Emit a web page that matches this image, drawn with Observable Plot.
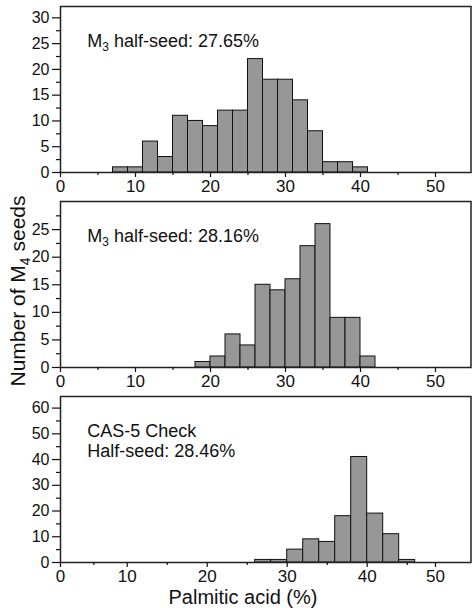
<!DOCTYPE html>
<html><head><meta charset="utf-8">
<script src="https://cdn.jsdelivr.net/npm/d3@7"></script>
<script src="https://cdn.jsdelivr.net/npm/@observablehq/plot@0.6"></script>
<style>
body{margin:0;background:#fff;font-family:"Liberation Sans",Arial,sans-serif;}
#wrap{position:relative;width:472px;height:608px;overflow:hidden;background:#fff}
#wrap svg.panel{display:block}
#over{position:absolute;left:0;top:0;pointer-events:none}
</style></head><body><div id="wrap"></div>
<script>
// ---- data ----
const binWidth = 2;
const p1Lo    = [7, 9, 11, 13, 15, 17, 19, 21, 23, 25, 27, 29, 31, 33, 35, 37, 39];
const p1Count = [1, 1, 6, 3, 11, 10, 9, 12, 12, 22, 18, 18, 14, 8, 2, 2, 1];
const p2Lo    = [18, 20, 22, 24, 26, 28, 30, 32, 34, 36, 38, 40];
const p2Count = [1, 2, 6, 4, 15, 14, 16, 22, 26, 9, 9, 2];
const p3Lo    = [26, 28, 30, 32, 34, 36, 38, 40, 42, 44];
const p3Count = [1, 1, 5, 9, 8, 18, 41, 19, 11, 1];
const p1Note = "M3 half-seed: 27.65%";
const p2Note = "M3 half-seed: 28.16%";
const p3Note = "CAS-5 Check\nHalf-seed: 28.46%";
const xMajor = [0, 10, 20, 30, 40, 50];
const xMinor = [5, 15, 25, 35, 45];
const p1YMajor = [0, 5, 10, 15, 20, 25, 30];
const p1YMinor = [2.5, 7.5, 12.5, 17.5, 22.5, 27.5];
const p2YMajor = [0, 5, 10, 15, 20, 25];
const p2YMinor = [2.5, 7.5, 12.5, 17.5, 22.5, 27.5];
const p3YMajor = [0, 10, 20, 30, 40, 50, 60];
const p3YMinor = [5, 15, 25, 35, 45, 55];
const xTitle = "Palmitic acid (%)";
const yTitle = ["Number of M", "4", " seeds"];

const FONT = '"Liberation Sans", Arial, sans-serif';
const W = 472, H = 195, ML = 60, MR = 1.5, MT = 6, MB = 23;

function panel(lo, count, yDomain, yMajor, yMinor, note, xScale) {
  const data = lo.map((v, i) => ({lo: v, hi: v + binWidth, n: count[i]}));
  const svg = Plot.plot({
    width: W, height: H,
    marginLeft: ML, marginRight: MR, marginTop: MT, marginBottom: MB,
    x: {...xScale, label: null},
    y: {domain: yDomain, label: null},
    style: {fontFamily: FONT, color: "#111", background: "#fff", overflow: "visible"},
    marks: [
      Plot.rectY(data, {x1: "lo", x2: "hi", y: "n", fill: "#979797", stroke: "#111", strokeWidth: 1}),
      Plot.frame({stroke: "#222", strokeWidth: 1.5}),
      Plot.axisY(yMajor, {tickSize: 8, tickPadding: 3, fontSize: 16, strokeWidth: 1.2, label: null}),
      Plot.axisY(yMinor, {tickSize: 4, tickFormat: () => "", strokeWidth: 1.2, label: null}),
      Plot.axisX(xMajor, {tickSize: 5, tickPadding: 2, fontSize: 17, strokeWidth: 1.2, label: null}),
      Plot.axisX(xMinor, {tickSize: 3, tickFormat: () => "", strokeWidth: 1.2, label: null}),
      Plot.text([note], {text: d => d, frameAnchor: "top-left", dx: 26.7, dy: 26.2,
        lineAnchor: "top", textAnchor: "start", fontSize: 18, lineHeight: 1.11, fill: "#111"})
    ]
  });
  svg.classList.add("panel");
  // subscript in "M3 ..."
  svg.querySelectorAll("text").forEach(t => {
    const s = t.textContent;
    if (s.startsWith("M3 ")) {
      while (t.firstChild) t.removeChild(t.firstChild);
      const ns = "http://www.w3.org/2000/svg";
      t.appendChild(document.createTextNode("M"));
      const sub = document.createElementNS(ns, "tspan");
      sub.setAttribute("font-size", "12");
      sub.setAttribute("dy", "4");
      sub.textContent = "3";
      t.appendChild(sub);
      const rest = document.createElementNS(ns, "tspan");
      rest.setAttribute("dy", "-4");
      rest.textContent = s.slice(2);
      t.appendChild(rest);
    }
  });
  return svg;
}

const xUniform = {domain: [0, (W - MR - ML) / 7.5]};
const xPanel3 = {type: "linear", domain: [0, 10, 46, 50, 55], range: [60, 126.7, 414.7, 435, W - MR]};

const wrap = document.getElementById("wrap");
wrap.appendChild(panel(p1Lo, p1Count, [0, 32.2], p1YMajor, p1YMinor, p1Note, xUniform));
wrap.appendChild(panel(p2Lo, p2Count, [0, 30.1], p2YMajor, p2YMinor, p2Note, xUniform));
wrap.appendChild(panel(p3Lo, p3Count, [0, 64.5], p3YMajor, p3YMinor, p3Note, xPanel3));

// overlay titles
const ns = "http://www.w3.org/2000/svg";
const over = document.createElementNS(ns, "svg");
over.setAttribute("id", "over");
over.setAttribute("width", W);
over.setAttribute("height", 608);
over.setAttribute("font-family", FONT);
over.innerHTML =
  `<text x="243" y="603.5" text-anchor="middle" font-size="20" fill="#111">${xTitle}</text>` +
  `<text transform="translate(25,291) rotate(-90)" text-anchor="middle" font-size="21" fill="#111">${yTitle[0]}<tspan font-size="14" dy="5">${yTitle[1]}</tspan><tspan dy="-5">${yTitle[2]}</tspan></text>`;
wrap.appendChild(over);
</script>
</body></html>
